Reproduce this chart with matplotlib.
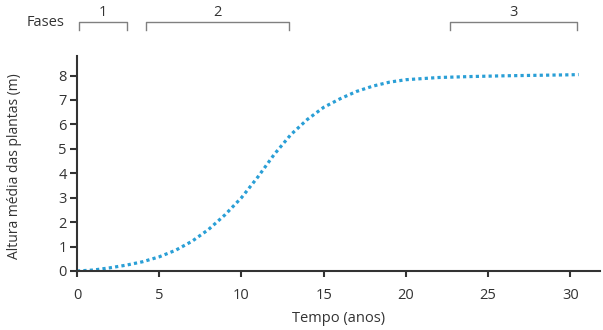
import matplotlib
matplotlib.use("Agg")
import matplotlib.pyplot as plt
from matplotlib.transforms import blended_transform_factory

plt.rcParams['font.family'] = ['Open Sans', 'DejaVu Sans']

# Growth curve: mean plant height over time
tempo = [0, 1, 2, 3, 4, 5, 6, 7, 8, 9, 10, 11, 12, 13, 14, 15, 16, 17, 18,
         19, 20, 22, 24, 26, 28, 30, 30.5]
altura = [0, 0.04, 0.13, 0.24, 0.38, 0.58, 0.85, 1.22, 1.70, 2.30, 3.0, 3.85,
          4.78, 5.58, 6.20, 6.70, 7.05, 7.35, 7.57, 7.73, 7.83, 7.92, 7.96,
          7.99, 8.01, 8.03, 8.04]

# Growth phases (start, end in years)
fases_rotulos = ["1", "2", "3"]
fases_inicio = [0.1, 4.2, 22.7]
fases_fim = [3.05, 12.9, 30.4]

x_ticks = [0, 5, 10, 15, 20, 25, 30]
y_ticks = [0, 1, 2, 3, 4, 5, 6, 7, 8]

fig = plt.figure(figsize=(6.03, 3.30), dpi=100)
ax = fig.add_axes([0.1277, 0.1788, 0.8673, 0.6515])

ax.plot(tempo, altura, color="#2a9fd6", linewidth=2.3,
        linestyle=(0, (1, 1.0)), dash_capstyle="butt", solid_joinstyle="round")

ax.set_xlim(0, 31.8)
ax.set_ylim(0, 8.8)
ax.set_xticks(x_ticks)
ax.set_yticks(y_ticks)

for s in ("top", "right"):
    ax.spines[s].set_visible(False)
for s in ("left", "bottom"):
    ax.spines[s].set_color("#333333")
    ax.spines[s].set_linewidth(1.5)
ax.tick_params(axis="both", colors="#333333", width=1.5,
               labelsize=10.5, labelcolor="#333333")
ax.tick_params(axis="x", length=4, pad=8)
ax.tick_params(axis="y", length=5, pad=2.5)

ax.set_xlabel("Tempo (anos)", fontsize=10.5, color="#333333", labelpad=6)
ax.set_ylabel("Altura média das plantas (m)", fontsize=10, color="#333333")
ax.yaxis.set_label_coords(-0.105, 0.49)

# Phase brackets above the plot
tr = blended_transform_factory(ax.transData, fig.transFigure)
y_top = 1 - 22 / 330
y_bot = 1 - 30 / 330
y_lab = 1 - 12 / 330
for rot, a, b in zip(fases_rotulos, fases_inicio, fases_fim):
    ax.plot([a, a, b, b], [y_bot, y_top, y_top, y_bot], transform=tr,
            color="#808080", linewidth=1.0, clip_on=False)
    ax.text((a + b) / 2, y_lab, rot, transform=tr, ha="center", va="center",
            fontsize=10.5, color="#333333")

fig.text(65 / 603, 1 - 22.5 / 330, "Fases", ha="right", va="center",
         fontsize=10.5, color="#333333")

fig.savefig("out.png", dpi=100)
